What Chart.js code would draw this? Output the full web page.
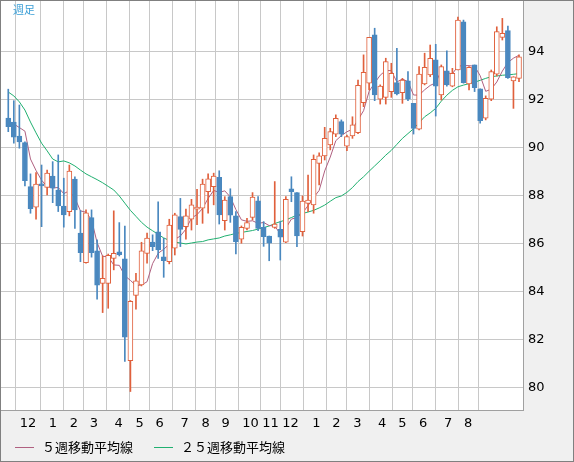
<!DOCTYPE html>
<html>
<head>
<meta charset="utf-8">
<script src="https://cdn.jsdelivr.net/npm/chart.js@4/dist/chart.umd.min.js"></script>
<style>
  body { margin: 0; background: #f0f0f0; }
  #wrap { width: 574px; height: 462px; }
</style>
</head>
<body>
<div id="wrap"><canvas id="chart_weekly" width="574" height="462"></canvas></div>
<script>
// weekly candles
const openList  = [91.25,91.08,90.5,90.22,88.39,87.53,88.46,88.36,88.83,88.25,87.58,87.35,88.7,86.45,85.22,87.1,85.71,84.36,84.36,85.4,85.67,85.38,81.14,83.86,84.29,85.61,86.08,86.51,85.46,85.26,85.82,87.14,86.72,87.03,87.45,87.49,88.18,88.39,88.78,86.97,87.97,87.17,86.2,86.65,87.11,87.8,86.69,86.33,86.69,86.61,86.07,88.3,88.14,86.51,87.69,87.63,89.36,89.67,90.13,90.58,91.1,90.08,90.5,90.64,91.89,92.7,94.71,92.03,92.11,92.35,92.72,92.3,92.8,91.86,90.78,92.67,93.04,93.67,92.21,93.22,92.58,93.25,95.26,92.67,93.46,92.46,91.24,92.03,93.08,94.61,94.89,92.79,92.9];
const highList  = [92.45,91.97,91.79,90.26,88.92,88.97,89.29,89.08,89.43,89.71,88.74,89.29,88.8,87.39,87.42,87.42,86.17,85.5,85.58,87.38,86.89,86.75,83.64,84.78,86.07,86.45,86.38,87.76,86.24,87.03,87.28,87.9,87.45,87.86,88.28,88.7,88.92,88.95,89.05,87.97,88.3,87.35,86.75,87.07,88.14,87.97,86.93,86.33,88.6,86.93,87.97,88.8,88.14,88.0,88.87,89.71,89.8,90.86,90.82,91.38,91.17,90.54,91.3,92.83,93.88,94.61,94.99,92.63,93.74,93.53,94.15,92.9,93.18,91.86,93.39,93.95,94.29,94.32,93.46,94.05,93.32,95.45,95.33,93.39,93.46,92.46,92.17,93.25,95.05,95.4,95.08,92.97,93.88];
const lowList   = [90.68,90.2,89.99,88.42,87.28,87.03,86.72,88.04,87.72,87.35,86.7,87.17,86.65,85.26,85.2,85.45,83.7,83.14,83.32,84.92,85.5,81.1,79.85,83.28,84.25,85.2,85.72,85.4,84.61,85.17,85.54,85.89,86.2,86.58,86.8,86.86,87.28,87.63,86.83,86.58,86.9,85.58,86.03,86.58,87.0,86.55,85.9,85.3,86.65,85.33,86.05,87.76,85.89,86.33,87.35,87.28,88.46,89.5,89.92,90.47,90.47,89.89,90.4,90.6,91.72,92.42,91.97,91.83,91.83,92.11,92.21,91.86,91.97,90.58,90.75,92.63,92.97,91.33,92.0,92.58,92.55,93.25,92.7,92.42,92.35,91.03,91.17,91.97,93.0,94.5,92.9,91.65,92.76];
const closeList = [90.89,90.45,90.25,88.64,87.47,88.5,88.42,88.95,88.32,87.58,87.21,89.04,87.42,85.64,87.3,85.64,84.28,84.57,85.53,85.61,85.55,82.11,83.61,84.46,85.71,86.24,85.89,85.75,85.3,86.79,87.21,86.61,87.17,87.63,87.49,88.49,88.71,88.83,87.21,87.83,87.2,86.1,86.69,86.89,87.95,86.65,86.3,86.03,86.83,86.28,87.86,88.18,86.33,87.79,87.83,89.53,89.67,90.4,90.68,91.24,90.58,90.47,90.96,92.61,93.15,94.61,92.21,92.58,93.6,93.11,92.25,92.83,92.03,90.82,93.08,93.36,93.74,92.58,93.39,92.63,93.11,95.33,92.72,93.36,92.51,91.14,92.07,93.18,94.85,94.78,92.93,92.97,93.8];

// 5-week MA: first four points (history before the window)
const ma5Lead = [91.1, 91.0, 90.85, 90.7];
// 25-week MA
const ma25List = [92.33,92.17,91.92,91.58,91.08,90.63,90.2,89.88,89.54,89.42,89.46,89.38,89.25,89.08,88.92,88.8,88.68,88.55,88.4,88.25,88.0,87.7,87.4,87.15,86.9,86.7,86.55,86.4,86.25,86.15,86.08,86.04,86.0,86.04,86.08,86.1,86.17,86.21,86.25,86.33,86.38,86.44,86.48,86.52,86.56,86.62,86.68,86.75,86.85,86.93,87.0,87.1,87.2,87.27,87.33,87.4,87.5,87.62,87.78,87.93,88.0,88.15,88.35,88.6,88.8,89.03,89.25,89.47,89.7,89.9,90.15,90.4,90.6,90.8,91.05,91.3,91.46,91.65,91.95,92.2,92.4,92.55,92.62,92.68,92.74,92.82,92.9,92.97,93.0,93.03,93.05,93.07,93.1];

// month grid positions (in week index units) and labels
const monthPos    = [3.54,8.04,11.81,15.41,19.9,23.68,27.27,31.77,35.55,39.14,43.64,47.23,50.83,55.5,59.1,62.87,67.36,71.0,74.74,79.23,82.82];
const monthLabels = ['12','1','2','3','4','5','6','7','8','9','10','11','12','1','2','3','4','5','6','7','8'];
const yTicks = [80, 82, 84, 86, 88, 90, 92, 94];

const colorUp = '#e0603c';
const colorDown = '#4a88bf';

let ma5List = [];
for (var i = 0; i < closeList.length; i++) {
  if (i < 4) { ma5List.push(ma5Lead[i]); continue; }
  let s = 0;
  for (var k = i - 4; k <= i; k++) s += closeList[k];
  ma5List.push(s / 5);
}

let wickData = [], bodyData = [], bodyBg = [], bodyBorder = [], wickColor = [];
for (var i = 0; i < openList.length; i++) {
  let up = closeList[i] >= openList[i];
  wickData.push({x: i, y: [lowList[i], highList[i]]});
  bodyData.push({x: i, y: [Math.min(openList[i], closeList[i]), Math.max(openList[i], closeList[i])]});
  bodyBg.push(up ? '#ffffff' : colorDown);
  bodyBorder.push(up ? colorUp : colorDown);
  wickColor.push(up ? colorUp : colorDown);
}

const frame = {
  id: 'frame',
  beforeDraw(chart) {
    const c = chart.ctx, a = chart.chartArea;
    c.save();
    c.fillStyle = '#f0f0f0';
    c.fillRect(0, 0, chart.width, chart.height);
    c.fillStyle = '#ffffff';
    c.fillRect(a.left, a.top, a.right - a.left, a.bottom - a.top);
    c.restore();
  },
  afterDraw(chart) {
    const c = chart.ctx, a = chart.chartArea;
    c.save();
    c.strokeStyle = '#a0a0a0';
    c.lineWidth = 1;
    c.strokeRect(a.left - 0.5, a.top - 0.5, a.right - a.left + 1, a.bottom - a.top + 1);
    c.strokeStyle = '#808080';
    c.strokeRect(0.5, 0.5, chart.width - 1, chart.height - 1);
    c.font = '11px "Noto Sans CJK JP"';
    c.fillStyle = '#3a9ed6';
    c.textBaseline = 'middle';
    c.fillText('週足', 13, 10);
    c.font = '13px "Noto Sans CJK JP"';
    c.fillStyle = '#000';
    c.strokeStyle = '#b06080';
    c.beginPath(); c.moveTo(15, 447.5); c.lineTo(34, 447.5); c.stroke();
    c.fillText('５週移動平均線', 42, 447);
    c.strokeStyle = '#20b070';
    c.beginPath(); c.moveTo(154, 447.5); c.lineTo(173, 447.5); c.stroke();
    c.fillText('２５週移動平均線', 181, 447);
    c.restore();
  }
};

new Chart(document.getElementById('chart_weekly'), {
  type: 'bar',
  data: {
    datasets: [{
        type: 'line',
        data: ma25List.map((v, i) => ({x: i, y: v})),
        borderColor: '#20b070',
        borderWidth: 1,
        pointRadius: 0,
        order: 3
      },{
        type: 'line',
        data: ma5List.map((v, i) => ({x: i, y: v})),
        borderColor: '#b06080',
        borderWidth: 1,
        pointRadius: 0,
        order: 2
      },{
        data: wickData,
        backgroundColor: wickColor,
        borderWidth: 0,
        barThickness: 1,
        grouped: false,
        order: 1
      },{
        data: bodyData,
        backgroundColor: bodyBg,
        borderColor: bodyBorder,
        borderWidth: 1,
        borderSkipped: false,
        barThickness: 5,
        minBarLength: 2,
        grouped: false,
        order: 0
      }]
  },
  options: {
    responsive: false,
    animation: false,
    layout: { padding: { left: 1, top: 1, right: 0, bottom: 0 } },
    plugins: { legend: { display: false }, tooltip: { enabled: false } },
    scales: {
      x: {
        type: 'linear',
        min: -1.31,
        max: 92.72,
        offset: false,
        afterBuildTicks: (s) => { s.ticks = monthPos.map(v => ({value: v})); },
        afterFit: (s) => { s.height = 52; s.paddingLeft = 0; s.paddingRight = 0; },
        ticks: {
          autoSkip: false,
          maxRotation: 0,
          padding: 6,
          color: '#000',
          font: { family: 'DejaVu Sans', size: 13 },
          callback: (v, idx) => monthLabels[idx]
        },
        grid: { color: '#c8c8c8', drawTicks: false },
        border: { display: false }
      },
      y: {
        position: 'right',
        min: 79.08,
        max: 96.125,
        afterBuildTicks: (s) => { s.ticks = yTicks.map(v => ({value: v})); },
        afterFit: (s) => { s.width = 51; s.paddingTop = 0; s.paddingBottom = 0; },
        ticks: {
          padding: 5,
          color: '#000',
          font: { family: 'DejaVu Sans', size: 13 }
        },
        grid: { color: '#c8c8c8', drawTicks: false },
        border: { display: false }
      }
    }
  },
  plugins: [frame]
});
</script>
</body>
</html>
